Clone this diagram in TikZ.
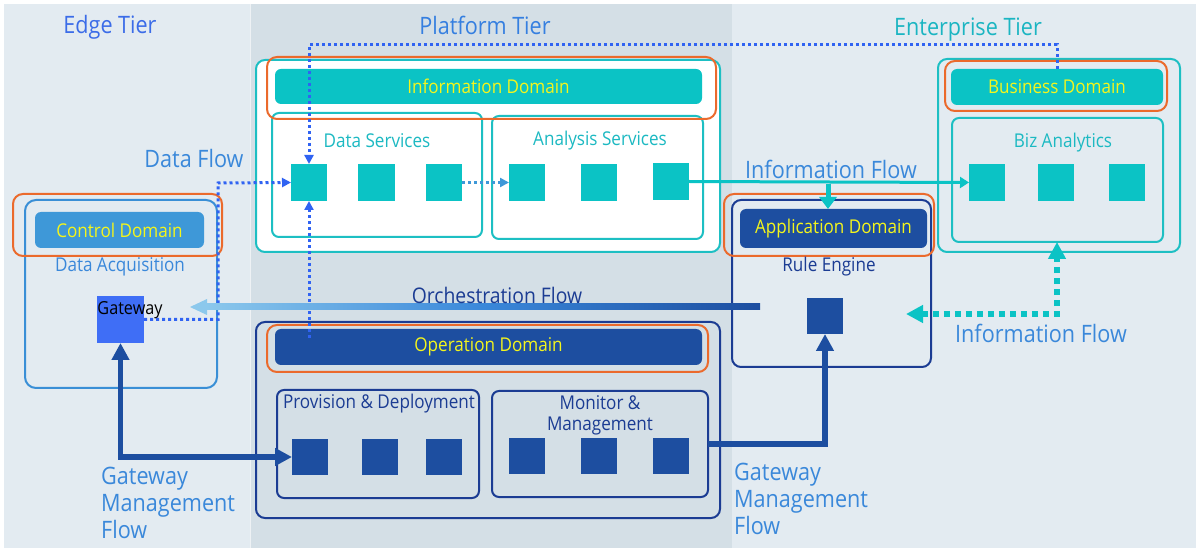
\documentclass[tikz,border=0pt]{standalone}
\usepackage{fontspec}
\setmainfont[FakeStretch=0.9]{Open Sans}
\usetikzlibrary{arrows.meta}
\definecolor{bgA}{HTML}{E3EBF1}
\definecolor{bgB}{HTML}{D4DFE6}
\definecolor{cTeal}{HTML}{0BC3C5}
\definecolor{cTealLine}{HTML}{1DBFC3}
\definecolor{cTealText}{HTML}{1CB9C2}
\definecolor{cDark}{HTML}{1D4EA0}
\definecolor{cDarkLine}{HTML}{1B3C93}
\definecolor{cOrange}{HTML}{EB6A2C}
\definecolor{cYellow}{HTML}{F4F51C}
\definecolor{cLabel}{HTML}{3A88DA}
\definecolor{cDot}{HTML}{3063F2}
\definecolor{cCtrl}{HTML}{3E98D8}
\definecolor{cCtrlLine}{HTML}{3A8FD6}
\definecolor{cGw}{HTML}{3F6EF6}
\definecolor{cLight}{HTML}{8CC8EC}
\definecolor{cEdgeT}{HTML}{3B6CE8}
\definecolor{cPlatT}{HTML}{357FE0}
\definecolor{cEntT}{HTML}{1BB5C2}
\newcommand\fs[1]{\fontsize{#1}{#1}\selectfont}
\newcommand\fss[2]{\fontsize{#1}{#2}\selectfont}
\newcommand\bx[7]{%
  \pgfmathsetmacro\bxw{#5-#3}\pgfmathsetmacro\bxh{#6-#4}%
  \node[#2, minimum width=\bxw pt, minimum height=\bxh pt, inner sep=0pt, outer sep=0pt] (#1) at ({(#3+#5)/2},{(#4+#6)/2}) {#7};}
\tikzset{
  tealouter/.style={draw=cTealLine, line width=2pt, rounded corners=9pt, fill=white},
  tealsvc/.style={draw=cTealLine, line width=2pt, rounded corners=7pt, fill=white},
  tealframe/.style={draw=cTealLine, line width=2pt, rounded corners=9pt},
  tealsvcb/.style={draw=cTealLine, line width=2pt, rounded corners=7pt},
  orangebox/.style={draw=cOrange, line width=2pt, rounded corners=10pt},
  tealbar/.style={fill=cTeal, rounded corners=6pt, text=cYellow, font=\fs{19}},
  darkbar/.style={fill=cDark, rounded corners=6pt, text=cYellow, font=\fs{19}},
  ctrlbar/.style={fill=cCtrl, rounded corners=6pt, text=cYellow, font=\fs{19}},
  darkframe/.style={draw=cDarkLine, line width=2pt, rounded corners=9pt},
  darksvc/.style={draw=cDarkLine, line width=2pt, rounded corners=7pt},
  ctrlframe/.style={draw=cCtrlLine, line width=2pt, rounded corners=11pt},
  sqT/.style={fill=cTeal},
  sqD/.style={fill=cDark},
  gwsq/.style={fill=cGw},
  tiertitle/.style={font=\fs{24}, inner sep=0pt},
  flowlabel/.style={font=\fs{24}, text=cLabel, inner sep=0pt},
  svctitle/.style={font=\fs{19}, inner sep=0pt},
  bluedot/.style={draw=cDot, line width=3pt, dash pattern=on 3pt off 3pt},
  tealdot/.style={draw=cTeal, line width=6pt, dash pattern=on 6pt off 5pt},
  mgmt/.style={draw=cDark, line width=5.5pt},
}
\begin{document}
\begin{tikzpicture}[x=1pt,y=-1pt]
\useasboundingbox (0,0) rectangle (1200,553);
\fill[white] (0,0) rectangle (1200,553);
% tiers
\fill[bgA] (4,4) rectangle (250,548);
\fill[bgB] (250,4) rectangle (732,548);
\fill[bgA] (732,4) rectangle (1196,548);
\draw[white!60!bgB, line width=1pt] (250,4) -- (250,548);
\node[tiertitle, text=cEdgeT] (tEdge) at (110,27) {Edge Tier};
\node[tiertitle, text=cPlatT] (tPlat) at (485,25) {Platform Tier};
\node[tiertitle, text=cEntT] (tEnt) at (968,30) {Enterprise Tier};

% Information domain
\bx{infoOuter}{tealouter}{256}{60}{720}{252}{}
\bx{dsBox}{tealsvc}{272}{113}{482}{237}{}
\bx{asBox}{tealsvc}{492}{116}{703}{239}{}
\bx{infoOr}{orangebox}{267}{57}{716}{119}{}
\bx{infoBar}{tealbar}{275}{69}{702}{104}{Information Domain}
\node[svctitle, text=cTealText] (dsT) at (377,141) {Data Services};
\node[svctitle, text=cTealText] (asT) at (600,141) {Analysis Services};
\bx{ds1}{sqT}{291}{164}{327}{201}{}
\bx{ds2}{sqT}{358}{164}{395}{201}{}
\bx{ds3}{sqT}{426}{164}{462}{201}{}
\bx{as1}{sqT}{509}{164}{545}{201}{}
\bx{as2}{sqT}{581}{164}{617}{201}{}
\bx{as3}{sqT}{653}{163}{689}{200}{}

% Business domain
\bx{entOuter}{tealframe}{938}{59}{1180}{252}{}
\bx{bizBox}{tealsvcb}{952}{118}{1163}{242}{}
\bx{bizOr}{orangebox}{945}{61}{1167}{111}{}
\bx{bizBar}{tealbar}{951}{69}{1163}{105}{Business Domain}
\node[svctitle, text=cTealText] (bizT) at (1063,143) {Biz Analytics};
\bx{bz1}{sqT}{969}{164}{1005}{201}{}
\bx{bz2}{sqT}{1038}{164}{1074}{201}{}
\bx{bz3}{sqT}{1109}{164}{1145}{201}{}

% Application domain
\bx{appOuter}{darkframe}{732}{200}{931}{367}{}
\bx{appOr}{orangebox}{724}{194}{934}{256}{}
\bx{appBar}{darkbar}{740}{209}{927}{248}{Application Domain}
\node[svctitle, text=cDarkLine] (reT) at (829,267) {Rule Engine};
\bx{re}{sqD}{807}{298}{843}{334}{}

% Control domain
\bx{ctrlOuter}{ctrlframe}{25}{200}{217}{388}{}
\bx{ctrlOr}{orangebox}{13}{194}{222}{256}{}
\bx{ctrlBar}{ctrlbar}{35}{212}{204}{248}{Control Domain}
\node[svctitle, text=cLabel] (daT) at (120,267) {Data Acquisition};
\bx{gw}{gwsq}{97}{296}{144}{343}{}
\node[font=\fs{18}, inner sep=0pt, text=black] (gwT) at (130,310) {Gateway};

% Operation domain
\bx{opOuter}{darkframe}{256}{322}{720}{518}{}
\bx{opOr}{orangebox}{267}{325}{708}{372}{}
\bx{opBar}{darkbar}{275}{329}{702}{365}{Operation Domain}
\bx{pdBox}{darksvc}{277}{390}{479}{498}{}
\bx{mmBox}{darksvc}{492}{391}{708}{497}{}
\node[svctitle, text=cDarkLine] (pdT) at (379,404) {Provision \& Deployment};
\node[svctitle, text=cDarkLine, align=center, font={\fss{19}{21}}] (mmT) at (600,415) {Monitor \&\\Management};
\bx{pd1}{sqD}{292}{439}{328}{475}{}
\bx{pd2}{sqD}{362}{439}{398}{475}{}
\bx{pd3}{sqD}{426}{439}{462}{475}{}
\bx{mm1}{sqD}{509}{438}{545}{474}{}
\bx{mm2}{sqD}{581}{438}{617}{474}{}
\bx{mm3}{sqD}{653}{438}{689}{474}{}

% Data flow (dotted blue)
\coordinate (dfX) at (218,183);
\draw[bluedot, -{Triangle[length=9pt,width=9pt,fill=cDot]}] (gw.east) -| (dfX) -- (ds1.west);
\coordinate (opDot) at (309,338);
\draw[bluedot, -{Triangle[length=9pt,width=9pt,fill=cDot]}] (opDot) -- (ds1.south);
\draw[bluedot, -{Triangle[length=9pt,width=9pt,fill=cDot]}] (bizBar.north) -- ++(0,-24) -| (ds1.north);
\draw[draw=cCtrl, line width=3pt, dash pattern=on 3pt off 3pt, -{Triangle[length=9pt,width=9pt,fill=cCtrl]}] (ds3.east) -- (as1.west);
\node[flowlabel] (dfL) at (194,159) {Data Flow};

% Information flow (solid teal)
\draw[draw=cTeal, line width=3pt, -{Triangle[length=9pt,width=11pt]}] (as3.east) -- (bz1.west);
\coordinate (ifB) at (828,184);
\draw[draw=cTeal, line width=5pt, -{Triangle[length=12pt,width=17pt]}] (ifB) -- (appBar.north -| ifB);
\node[flowlabel] (ifL1) at (831,169) {Information Flow};

% Orchestration flow
\coordinate (orL) at (206,304);
\coordinate (orR) at (760,310);
\coordinate (orTip) at (190,307);
\shade[left color=cLight, right color=cDark, middle color=cLabel] (orL) rectangle (orR);
\fill[cLight] (orTip) -- ++(17,-8) -- ++(0,16) -- cycle;
\node[flowlabel, text=cDarkLine, font=\fs{21.5}] (orLbl) at (497,295) {Orchestration Flow};

% Information flow (dotted thick teal)
\coordinate (ifC) at (1057,314);
\coordinate (ifTip) at (906,314);
\draw[tealdot, {Triangle[length=17pt,width=17pt,fill=cTeal]}-{Triangle[length=17pt,width=17pt,fill=cTeal]}] (ifTip) -- (ifC) -- (bizBox.south -| ifC);
\node[flowlabel] (ifL2) at (1041,333) {Information Flow};

% Gateway management flows
\draw[mgmt, {Triangle[length=17pt,width=17pt]}-{Triangle[length=17pt,width=17pt]}] (gw.south) |- (pd1.west);
\draw[mgmt, -{Triangle[length=17pt,width=17pt]}] (mmBox.east) -| (re.south);
\node[flowlabel, align=left, anchor=west, font={\fss{24}{27}}] (gmL) at (101,503) {Gateway\\Management\\Flow};
\node[flowlabel, align=left, anchor=west, font={\fss{24}{27}}] (gmR) at (734,499) {Gateway\\Management\\Flow};
\end{tikzpicture}
\end{document}
